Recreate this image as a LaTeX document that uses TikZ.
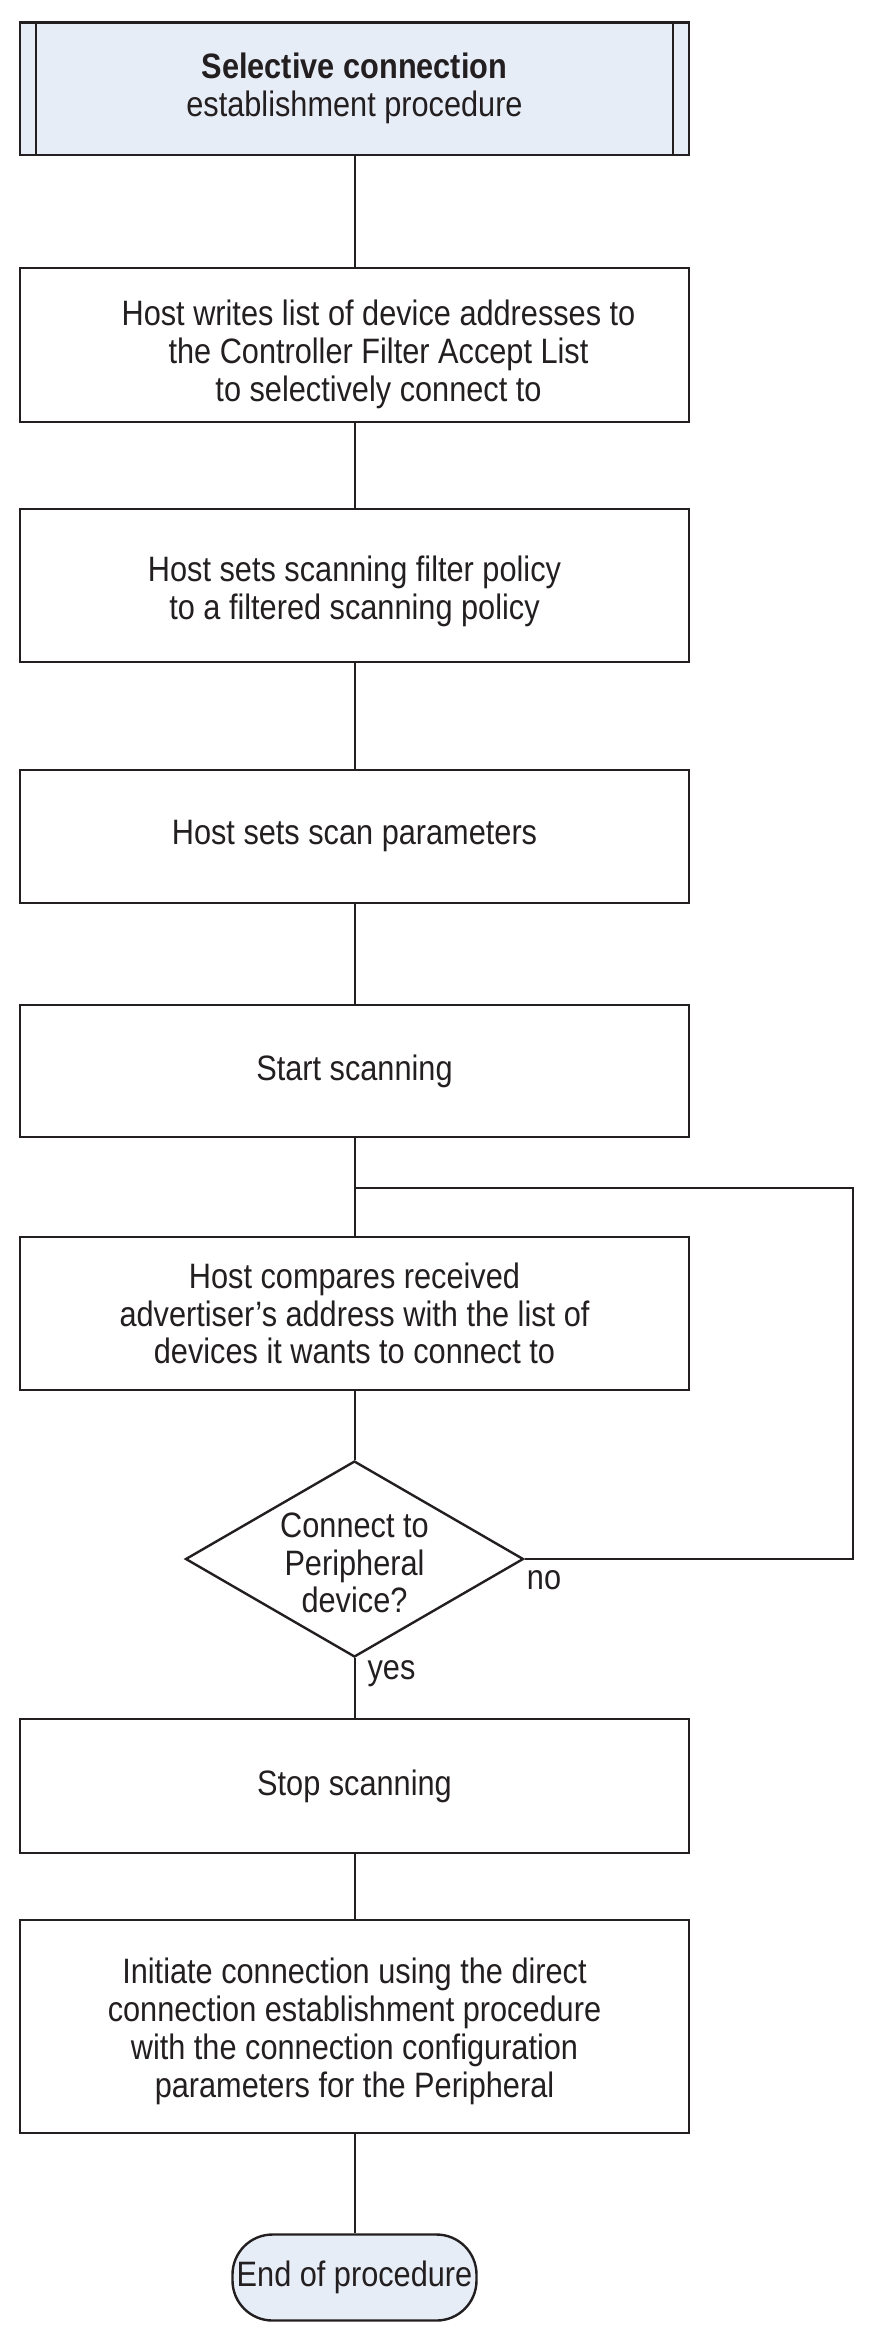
\documentclass[tikz,border=0pt]{standalone}
\usepackage{fontspec}
\setmainfont[FakeStretch=0.87]{Liberation Sans}
\usetikzlibrary{shapes.geometric}
\definecolor{ink}{RGB}{35,31,32}
\definecolor{termfill}{RGB}{231,237,247}
\begin{document}
\begin{tikzpicture}[x=1pt,y=-1pt,
  every node/.style={font=\fontsize{35.3}{37.8}\selectfont, text=ink},
  procbox/.style={draw=ink, line width=2.4pt, minimum width=669pt, inner sep=0pt, align=center},
  boxtext/.style={align=center, inner sep=0pt},
  conn/.style={draw=ink, line width=2pt},
  thinline/.style={draw=ink, line width=2pt}]
\useasboundingbox (0,0) rectangle (869,2331);

\node[procbox, fill=termfill, minimum height=132pt] (start) at (354.5,88.7)
  {\textbf{Selective connection}\\establishment procedure};
\draw[thinline] ([xshift=17.5pt]start.north west) -- ([xshift=17.5pt]start.south west);
\draw[thinline] ([xshift=-17.5pt]start.north east) -- ([xshift=-17.5pt]start.south east);

\node[procbox, minimum height=154pt] (b2) at (354.5,345) {};
\node[boxtext] (b2text) at (378.5,354.5)
  {Host writes list of device addresses to\\the Controller Filter Accept List\\to selectively connect to};
\node[procbox, minimum height=153pt] (b3) at (354.5,585.5) {};
\node[boxtext] (b3text) at (354.5,591.5)
  {Host sets scanning filter policy\\to a filtered scanning policy};
\node[procbox, minimum height=133pt] (b4) at (354.5,836.5) {Host sets scan parameters};
\node[procbox, minimum height=132.5pt] (b5) at (354.5,1071) {Start scanning};
\node[procbox, minimum height=153pt] (b6) at (354.5,1313.5)
  {Host compares received\\advertiser’s address with the list of\\devices it wants to connect to};
\node[diamond, draw=ink, line width=2.4pt, minimum width=338pt, minimum height=196pt, inner sep=0pt] (dec) at (354.5,1559) {};
\node[align=center] (dectext) at (354.5,1563) {Connect to\\Peripheral\\device?};
\node[procbox, minimum height=134pt] (b7) at (354.5,1786) {Stop scanning};
\node[procbox, minimum height=213pt] (b8) at (354.5,2026.5) {};
\node[boxtext] (b8text) at (354.5,2031.5)
  {Initiate connection using the direct\\connection establishment procedure\\with the connection configuration\\parameters for the Peripheral};
\node[draw=ink, fill=termfill, line width=2.4pt, rounded corners=40pt, minimum width=244pt, minimum height=86pt, inner sep=0pt] (endp) at (354.5,2277.5) {End of procedure};

\node[anchor=base] (nolbl) at (544,1589) {no};
\node[anchor=base] (yeslbl) at (391.5,1679) {yes};

\coordinate (join) at (354.5,1188);
\coordinate (loopc) at (853.3,1188);

\draw[conn] (start.south) -- (b2.north);
\draw[conn] (b2.south) -- (b3.north);
\draw[conn] (b3.south) -- (b4.north);
\draw[conn] (b4.south) -- (b5.north);
\draw[conn] (b5.south) -- (b6.north);
\draw[conn] (b6.south) -- (dec.north);
\draw[conn] (dec.east) -| (loopc) -- (join);
\draw[conn] (dec.south) -- (b7.north);
\draw[conn] (b7.south) -- (b8.north);
\draw[conn] (b8.south) -- (endp.north);
\end{tikzpicture}
\end{document}
